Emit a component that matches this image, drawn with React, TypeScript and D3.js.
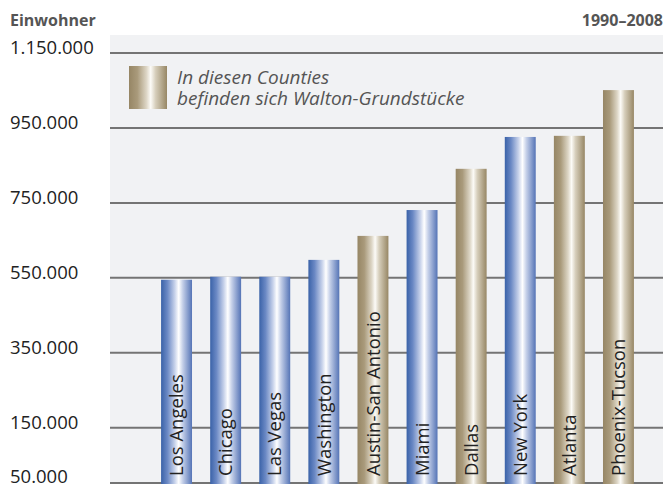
import React from "react";
import * as d3 from "d3";

const cities = ["Los Angeles", "Chicago", "Las Vegas", "Washington", "Austin-San Antonio", "Miami", "Dallas", "New York", "Atlanta", "Phoenix-Tucson"];
const population = [545000, 553000, 553000, 598000, 662000, 731000, 841000, 926000, 929000, 1051000];
const walton = [false, false, false, false, true, false, true, false, true, true];
const tickValues = [1150000, 950000, 750000, 550000, 350000, 150000];
const tickLabels = ["1.150.000", "950.000", "750.000", "550.000", "350.000", "150.000"];
const baseLabel = "50.000";
const yAxisTitle = "Einwohner";
const periodLabel = "1990–2008";
const legendLines = ["In diesen Counties", "befinden sich Walton-Grundstücke"];

const W = 665;
const H = 484;
const FONT = "'Open Sans', 'Noto Sans', sans-serif";

export default function App() {
  const panelLeft = 110;
  const panelRight = 663;
  const panelTop = 35;
  const y = d3.scaleLinear().domain([0, 1150000]).range([484, 53]);
  const x = d3
    .scaleBand<string>()
    .domain(cities)
    .range([152, 643])
    .paddingInner(0.37)
    .paddingOuter(0.185);

  return (
    <svg width={W} height={H} style={{ position: "absolute", left: 0, top: 0, background: "#fff" }} fontFamily={FONT}>
      <defs>
        <linearGradient id="gBlue" x1="0" x2="1" y1="0" y2="0">
          <stop offset="0%" stopColor="#3a62a8" />
          <stop offset="20%" stopColor="#6a88c4" />
          <stop offset="44%" stopColor="#c6d1ea" />
          <stop offset="57%" stopColor="#ffffff" />
          <stop offset="70%" stopColor="#c4cfe8" />
          <stop offset="100%" stopColor="#5574b6" />
        </linearGradient>
        <linearGradient id="gGold" x1="0" x2="1" y1="0" y2="0">
          <stop offset="0%" stopColor="#968665" />
          <stop offset="22%" stopColor="#a99a7b" />
          <stop offset="46%" stopColor="#ddd6c6" />
          <stop offset="57%" stopColor="#fcfbf7" />
          <stop offset="70%" stopColor="#d6cebb" />
          <stop offset="100%" stopColor="#978765" />
        </linearGradient>
      </defs>

      <rect x={panelLeft} y={panelTop} width={panelRight - panelLeft} height={H - panelTop} fill="#f1f2f4" />

      <text x={10} y={26} fontSize={16} fontWeight="bold" fill="#555">{yAxisTitle}</text>
      <text x={663} y={26} fontSize={16} fontWeight="bold" fill="#555" textAnchor="end">{periodLabel}</text>

      {tickValues.map((v, i) => (
        <g key={v}>
          <line x1={panelLeft} x2={panelRight} y1={y(v)} y2={y(v)} stroke="#747474" strokeWidth={2} />
          <text x={10} y={y(v) + 1} fontSize={18.5} fill="#222">{tickLabels[i]}</text>
        </g>
      ))}
      <line x1={panelLeft} x2={panelRight} y1={y(0) - 1} y2={y(0) - 1} stroke="#747474" strokeWidth={2} />
      <text x={10} y={y(0) - 1} fontSize={18.5} fill="#222">{baseLabel}</text>

      <rect x={129} y={66} width={38} height={43} fill="url(#gGold)" />
      {legendLines.map((t, i) => (
        <text key={i} x={177} y={84 + i * 21} fontSize={19} fontStyle="italic" fill="#555">{t}</text>
      ))}

      {cities.map((c, i) => {
        const bx = x(c)!;
        const bw = x.bandwidth();
        const top = y(population[i]);
        const cx = bx + bw / 2;
        return (
          <g key={c}>
            <rect x={bx} y={top} width={bw} height={y(0) - top} fill={walton[i] ? "url(#gGold)" : "url(#gBlue)"} />
            <text
              transform={`translate(${cx},${476}) rotate(-90)`}
              dy="0.36em"
              fontSize={18.5}
              fill="#222"
            >
              {c}
            </text>
          </g>
        );
      })}
    </svg>
  );
}
